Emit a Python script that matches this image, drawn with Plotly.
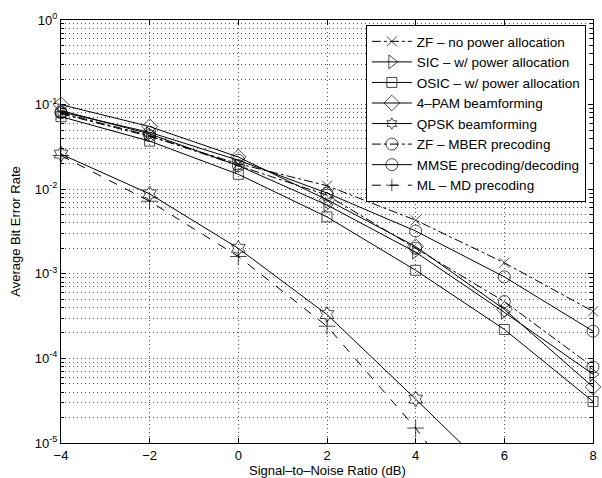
import plotly.graph_objects as go

snr = [-4, -2, 0, 2, 4, 6, 8]

zf_no_pa = [0.078, 0.042, 0.020, 0.011, 0.0043, 0.00135, 0.00036]
sic_pa = [0.085, 0.045, 0.019, 0.0065, 0.0018, 0.00035, 0.000065]
osic_pa = [0.072, 0.037, 0.015, 0.0047, 0.0011, 0.00022, 0.000031]
pam4_bf = [0.100, 0.055, 0.024, 0.0075, 0.0021, 0.00038, 0.000046]
qpsk_bf = [0.026, 0.0088, 0.0020, 0.00033, 0.000033, 0.0000032, 0.0000003]
zf_mber = [0.080, 0.043, 0.019, 0.0085, 0.0020, 0.00047, 0.000079]
mmse_pd = [0.082, 0.047, 0.022, 0.0090, 0.0032, 0.00092, 0.00021]
ml_md = [0.025, 0.0072, 0.0016, 0.00024, 0.000015, 0.0000006, 0.00000003]

names = [
    "ZF – no power allocation",
    "SIC – w/ power allocation",
    "OSIC – w/ power allocation",
    "4–PAM beamforming",
    "QPSK beamforming",
    "ZF – MBER precoding",
    "MMSE precoding/decoding",
    "ML – MD precoding",
]
series = [zf_no_pa, sic_pa, osic_pa, pam4_bf, qpsk_bf, zf_mber, mmse_pd, ml_md]
symbols = ["x-thin-open", "triangle-right-open", "square-open", "diamond-open",
           "hexagram-open", "circle-open", "circle-open", "cross-thin-open"]
dashes = ["dashdot", "solid", "solid", "solid", "solid", "dashdot", "solid", "dash"]
sizes = [10, 12, 10, 12, 12, 12, 12, 12]

Y_MIN = 1e-5

fig = go.Figure()
for nm, ys, sym, ds, sz in zip(names, series, symbols, dashes, sizes):
    # markers are not clipped at the frame (as in the original); hide the
    # ones that fall below the visible range
    msz = [sz if v >= Y_MIN else 0 for v in ys]
    fig.add_trace(go.Scatter(
        x=snr, y=ys, name=nm, mode="lines+markers",
        line=dict(color="black", width=1, dash=ds),
        marker=dict(symbol=sym, size=msz, color="black",
                    line=dict(color="black", width=1)),
        cliponaxis=False,
    ))

major = [10.0 ** k for k in range(-5, 1)]
major_text = ["10<sup>%d</sup>" % k for k in range(-5, 1)]
minor = [m * 10.0 ** k for k in range(-5, 0) for m in range(2, 10)]

font = "Liberation Sans, Arial, Helvetica, sans-serif"
grid = "#555"
fig.update_layout(
    width=602, height=478,
    margin=dict(l=61, r=5, t=20, b=35),
    paper_bgcolor="white", plot_bgcolor="white",
    font=dict(family=font, size=13, color="black"),
    showlegend=True,
    legend=dict(x=0.573, y=0.988, xanchor="left", yanchor="top",
                bgcolor="white", bordercolor="black", borderwidth=1,
                font=dict(size=13.5, family=font), tracegroupgap=0,
                itemwidth=40),
    xaxis=dict(
        range=[-4, 8], tickmode="array", tickvals=[-4, -2, 0, 2, 4, 6, 8],
        ticks="inside", ticklen=5, tickcolor="black",
        showline=True, linecolor="black", linewidth=1, mirror="ticks",
        showgrid=True, gridcolor=grid, griddash="1px,3px", gridwidth=1,
        zeroline=False,
        tickfont=dict(size=13),
    ),
    yaxis=dict(
        type="log", range=[-5, 0],
        tickmode="array", tickvals=major, ticktext=major_text,
        ticks="inside", ticklen=5, tickcolor="black",
        showline=True, linecolor="black", linewidth=1, mirror="ticks",
        showgrid=True, gridcolor=grid, griddash="1px,3px", gridwidth=1,
        zeroline=False,
        minor=dict(tickmode="array", tickvals=minor, ticks="inside",
                   ticklen=3, tickcolor="black", showgrid=True,
                   gridcolor=grid, griddash="1px,3px", gridwidth=1),
        title=dict(text="Average Bit Error Rate", standoff=11,
                   font=dict(size=13)),
        tickfont=dict(size=13),
    ),
    annotations=[dict(
        text="Signal–to–Noise Ratio (dB)", xref="paper", yref="paper",
        x=0.5, y=0, yshift=-27, xanchor="center", yanchor="middle",
        showarrow=False, font=dict(size=13, family=font),
    )],
)

# remove the browser's default 8px page margin so the figure fills the window
fig.write_html("out.html", config={"displayModeBar": False},
               post_script="document.body.style.margin='0px';")
